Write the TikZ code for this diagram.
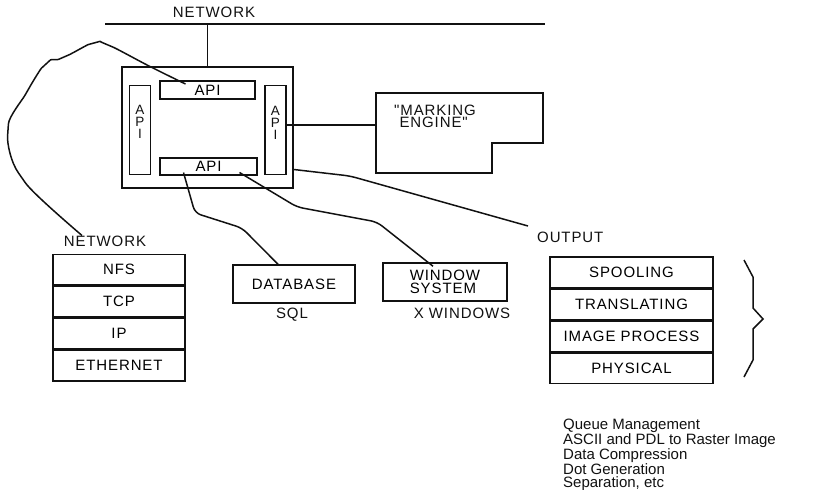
\documentclass[tikz,border=0pt]{standalone}
\usepackage{fontspec}
\setmainfont{Liberation Sans}
\newfontfamily\capsfont{Liberation Sans}[LetterSpace=6]
\usetikzlibrary{positioning}
\definecolor{ink}{HTML}{111111}
\tikzset{
  wire/.style={draw=ink, line width=1.5pt, rounded corners=6pt},
  frame/.style={draw=ink, line width=1.5pt, inner sep=0pt, align=center,
    font=\capsfont\fontsize{15}{13}\selectfont},
  apibox/.style={frame, font=\capsfont\fontsize{15}{11}\selectfont},
  layer/.style={frame, minimum height=30.5pt},
  lbl/.style={inner sep=0pt, text=ink, font=\capsfont\fontsize{15}{13}\selectfont}
}
\begin{document}
\begin{tikzpicture}[x=1pt, y=-1pt]
  \useasboundingbox (0,0) rectangle (815,490);
  % network bus and host
  \node[lbl] (netTop) at (214,12) {NETWORK};
  \coordinate (busL) at (105,24);
  \coordinate (busR) at (545,24);
  \draw[wire] (busL) -- (busR);
  \node[frame, minimum width=171pt, minimum height=121pt] (host) at (207.5,127.5) {};
  \draw[wire] (host.north) -- (host.north |- busL);
  \node[apibox, minimum width=95pt, minimum height=18pt] (apiT) at (207.5,90) {API};
  \node[apibox, minimum width=97pt, minimum height=17pt] (apiB) at (208.5,166.5) {API};
  \node[apibox, minimum width=21pt, minimum height=89pt] (apiL) at (140,130) {};
  \node[apibox, minimum width=21pt, minimum height=89pt] (apiR) at (275.5,130) {};
  \node[lbl, align=center, font=\capsfont\fontsize{13.5}{12}\selectfont] (apiLtxt) at ([yshift=8pt]apiL.center) {A\\P\\I};
  \node[lbl, align=center, font=\capsfont\fontsize{13.5}{12}\selectfont] (apiRtxt) at ([yshift=7pt]apiR.center) {A\\P\\I};
  % marking engine
  \draw[line width=1.5pt, draw=ink] (376,93) -- (543,93) -- (543,143) -- (492,143) -- (492,173) -- (376,173) -- cycle;
  \coordinate (engW) at (376,125);
  \node[lbl, anchor=north west, align=left, font=\capsfont\fontsize{15}{12}\selectfont] (engTxt) at (394,105) {"MARKING\\\phantom{"}ENGINE"};
  \draw[wire] (apiR.east |- engW) -- (engW);
  % output line
  \node[lbl, anchor=west] (outLbl) at (537,237) {OUTPUT};
  \coordinate (outEnd) at (528,226);
  \draw[wire] ([yshift=-42pt]host.east) -- (350,176) -- (outEnd);
  % network stack
  \node[lbl] (netL) at (105,241) {NETWORK};
  \node[layer, minimum width=132pt] (nfs) at (119,269.5) {NFS};
  \node[layer, minimum width=132pt, below=0pt of nfs] (tcp) {TCP};
  \node[layer, minimum width=132pt, below=0pt of tcp] (ip) {IP};
  \node[layer, minimum width=132pt, below=0pt of ip] (eth) {ETHERNET};
  \draw[wire] plot[smooth, tension=0.55] coordinates {([xshift=-22pt,yshift=6pt]apiT.center) (153,68) (108,45) (94,43) (64,57) (46,64) (28,90) (8,130) (22,178) ([xshift=-23pt]netL.north)};
  % database and window system
  \node[frame, minimum width=122pt, minimum height=38pt] (db) at (294,284) {DATABASE};
  \node[lbl] (sql) at (292,315) {SQL};
  \node[frame, minimum width=124pt, minimum height=38pt, align=left] (win) at (445,282) {WINDOW\\SYSTEM};
  \node[lbl] (xwin) at (462,313) {X WINDOWS};
  \draw[wire] ([xshift=-25pt,yshift=-6pt]apiB.center) -- (195,213) -- (242,228) -- ([xshift=-16pt]db.north);
  \draw[wire] ([xshift=31pt,yshift=-6pt]apiB.center) -- (297,207) -- (377,222) -- ([xshift=-12pt,yshift=-4pt]win.north);
  % output stack
  \node[layer, minimum width=163pt] (spool) at (631.5,272) {SPOOLING};
  \node[layer, minimum width=163pt, below=0pt of spool] (trans) {TRANSLATING};
  \node[layer, minimum width=163pt, below=0pt of trans] (image) {IMAGE PROCESS};
  \node[layer, minimum width=163pt, below=0pt of image] (phys) {PHYSICAL};
  \draw[line width=1.5pt, draw=ink] (744,260) -- (753,277) -- (753,308) -- (763,319) -- (753,329) -- (753,360) -- (744,377);
  \node[anchor=north west, inner sep=0pt, align=left, text=ink, font=\fontsize{15}{13}\selectfont] (notes) at (563,419)
    {Queue Management\\ASCII and PDL to Raster Image\\Data Compression\\Dot Generation\\Separation, etc};
\end{tikzpicture}
\end{document}
